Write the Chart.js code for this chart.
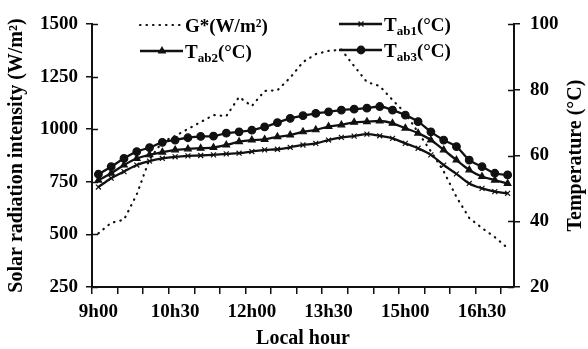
<!DOCTYPE html>
<html>
<head>
<meta charset="utf-8">
<script src="https://cdn.jsdelivr.net/npm/chart.js@4.4.1/dist/chart.umd.min.js"></script>
<style>
html, body { margin: 0; padding: 0; background: #fff; }
#wrap { width: 588px; height: 349px; }
</style>
</head>
<body>
<div id="wrap"><canvas id="mycanvas"></canvas></div>
<script>
// time of day, every 15 min
var hours = ['9h00','9h15','9h30','9h45','10h00','10h15','10h30','10h45','11h00','11h15','11h30',
	'11h45','12h00','12h15','12h30','12h45','13h00','13h15','13h30','13h45','14h00','14h15',
	'14h30','14h45','15h00','15h15','15h30','15h45','16h00','16h15','16h30','16h45','17h00'];
var shownHours = ['9h00','10h30','12h00','13h30','15h00','16h30'];

// solar radiation G* (W/m2)
var gStar = [505, 555, 570, 690, 858, 939, 968, 1001, 1034, 1067, 1062,
	1153, 1110, 1182, 1185, 1245, 1319, 1357, 1372, 1378, 1300, 1224,
	1205, 1139, 1077, 985, 895, 800, 678, 578, 530, 487, 435];

// absorber temperatures (C)
var tab1 = [50.4, 53.1, 55.1, 57.1, 58.3, 59.1, 59.6, 59.9, 60.0, 60.2, 60.5,
	60.7, 61.2, 61.7, 61.9, 62.5, 63.2, 63.7, 64.7, 65.5, 65.9, 66.5,
	66.0, 65.2, 63.7, 62.2, 60.2, 57.1, 54.4, 51.5, 50.0, 49.0, 48.5];
var tab2 = [52.5, 54.6, 57.1, 59.1, 60.2, 61.0, 61.7, 62.0, 62.2, 62.4, 63.2,
	64.2, 64.7, 64.9, 65.7, 66.2, 67.2, 67.8, 68.8, 69.3, 70.1, 70.3,
	70.5, 69.8, 68.3, 66.8, 64.7, 61.7, 58.6, 55.6, 53.6, 52.5, 51.5];
var tab3 = [54.3, 56.6, 59.1, 61.2, 62.4, 64.0, 64.7, 65.4, 65.8, 65.9, 66.8,
	67.2, 67.7, 68.7, 70.0, 71.3, 72.1, 72.8, 73.3, 73.8, 74.1, 74.4,
	74.9, 73.8, 72.3, 70.3, 67.2, 64.7, 62.7, 58.6, 56.6, 54.6, 54.1];

var radTicks = {min: 250, max: 1500, step: 250};
var tempTicks = {min: 20, max: 100, step: 20};
var tempTitle = 'Temperature (°C)';

var serif = "'Liberation Serif', 'Times New Roman', serif";
Chart.defaults.font.family = serif;
Chart.defaults.font.weight = 'bold';
Chart.defaults.color = '#000';

var ink = '#111';

// inner half of the axis ticks, right title (reads upward) and the two-column legend
var extras = {
	id: 'extras',
	afterDraw: function(chart) {
		var c = chart.ctx;
		var a = chart.chartArea;
		c.save();
		c.strokeStyle = ink;
		c.lineWidth = 1.5;
		var yl = chart.scales.y, yr = chart.scales.y1;
		yl.ticks.forEach(function(t) {
			var p = Math.round(yl.getPixelForValue(t.value)) + 0.5;
			c.beginPath(); c.moveTo(a.left, p); c.lineTo(a.left + 6, p); c.stroke();
		});
		yr.ticks.forEach(function(t) {
			var p = Math.round(yr.getPixelForValue(t.value)) + 0.5;
			c.beginPath(); c.moveTo(a.right, p); c.lineTo(a.right - 6, p); c.stroke();
		});

		c.save();
		c.translate(yr.right - 12, (yr.top + yr.bottom) / 2);
		c.rotate(-Math.PI / 2);
		c.font = 'bold 20px ' + serif;
		c.fillStyle = '#000';
		c.textAlign = 'center';
		c.textBaseline = 'middle';
		c.fillText(tempTitle, 0, 0);
		c.restore();

		var items = [
			{ds: 0, x: 140, y: 25, main: 'G*(W/m²)'},
			{ds: 1, x: 339, y: 24, main: 'T', sub: 'ab1', tail: '(°C)'},
			{ds: 2, x: 140, y: 51, main: 'T', sub: 'ab2', tail: '(°C)'},
			{ds: 3, x: 339, y: 50, main: 'T', sub: 'ab3', tail: '(°C)'}
		];
		items.forEach(function(it) {
			var d = chart.data.datasets[it.ds];
			c.save();
			c.strokeStyle = d.borderColor;
			c.lineWidth = d.borderWidth;
			c.setLineDash(d.borderDash || []);
			c.lineCap = d.borderCapStyle || 'butt';
			c.beginPath(); c.moveTo(it.x, it.y); c.lineTo(it.x + 43, it.y); c.stroke();
			c.restore();
			if (d.pointRadius > 0) {
				c.save();
				c.fillStyle = d.pointBackgroundColor;
				c.strokeStyle = d.pointBorderColor;
				c.lineWidth = d.pointBorderWidth;
				Chart.helpers.drawPoint(c, {pointStyle: d.pointStyle, radius: d.pointRadius, rotation: 0, borderWidth: d.pointBorderWidth}, it.x + 22, it.y);
				c.restore();
			}
			var tx = it.x + 45, base = it.y + 7;
			c.fillStyle = '#000';
			c.textBaseline = 'alphabetic';
			c.textAlign = 'left';
			c.font = 'bold 19px ' + serif;
			c.fillText(it.main, tx, base);
			tx += c.measureText(it.main).width;
			if (it.sub) {
				c.font = 'bold 13px ' + serif;
				c.fillText(it.sub, tx, base + 4);
				tx += c.measureText(it.sub).width;
				c.font = 'bold 19px ' + serif;
				c.fillText(it.tail, tx, base);
			}
		});
		c.restore();
	}
};

function tempSet(data, style, radius) {
	return {
		data: data,
		yAxisID: 'y1',
		borderColor: ink,
		borderWidth: 2.3,
		pointStyle: style,
		pointRadius: radius,
		pointBackgroundColor: ink,
		pointBorderColor: ink,
		pointBorderWidth: 1.2,
		cubicInterpolationMode: 'monotone',
		fill: false
	};
}

var chartdata = {
	labels: hours,
	datasets: [
		{
			label: 'G*(W/m²)',
			data: gStar,
			yAxisID: 'y',
			borderColor: ink,
			borderWidth: 2.2,
			borderDash: [0.5, 6],
			borderCapStyle: 'round',
			pointRadius: 0,
			tension: 0,
			fill: false
		},
		Object.assign({label: 'Tab1(°C)'}, tempSet(tab1, 'crossRot', 3.5)),
		Object.assign({label: 'Tab2(°C)'}, tempSet(tab2, 'triangle', 3.8)),
		Object.assign({label: 'Tab3(°C)'}, tempSet(tab3, 'circle', 3.8))
	]
};

var ctx = document.getElementById('mycanvas');

var LineGraph = new Chart(ctx, {
	type: 'line',
	data: chartdata,
	plugins: [extras],
	options: {
		responsive: true,
		maintainAspectRatio: false,
		animation: false,
		devicePixelRatio: 1,
		layout: { padding: { top: 24, left: 0, right: 0, bottom: 0 } },
		plugins: {
			legend: { display: false },
			tooltip: { enabled: false }
		},
		scales: {
			x: {
				offset: true,
				afterFit: function(s) { s.height = 62; },
				border: { display: true, color: ink, width: 2 },
				grid: {
					offset: true,
					drawOnChartArea: false,
					drawTicks: true,
					tickLength: 7,
					lineWidth: 1.5,
					color: function(c) { return c.index % 2 === 0 ? ink : 'rgba(0,0,0,0)'; }
				},
				ticks: {
					autoSkip: false,
					maxRotation: 0,
					minRotation: 0,
					padding: 7,
					font: { size: 19, weight: 'bold' },
					callback: function(v, i) {
						var h = hours[i];
						return shownHours.indexOf(h) >= 0 ? h : '';
					}
				},
				title: {
					display: true,
					text: 'Local hour',
					font: { size: 20, weight: 'bold', lineHeight: 1 },
					padding: { top: 0, bottom: 0 }
				}
			},
			y: {
				position: 'left',
				min: radTicks.min,
				max: radTicks.max,
				afterFit: function(s) { s.width = 92; },
				border: { display: true, color: ink, width: 2 },
				grid: { drawOnChartArea: false, tickLength: 6, color: ink, lineWidth: 1.5 },
				ticks: {
					stepSize: radTicks.step,
					padding: 8,
					font: { size: 19, weight: 'bold' },
					callback: function(v) { return String(v); }
				},
				title: {
					display: true,
					text: 'Solar radiation intensity (W/m²)',
					font: { size: 20, weight: 'bold', lineHeight: 1 },
					padding: { top: 7, bottom: 0 }
				}
			},
			y1: {
				position: 'right',
				min: tempTicks.min,
				max: tempTicks.max,
				afterFit: function(s) { s.width = 74; },
				border: { display: true, color: ink, width: 2 },
				grid: { drawOnChartArea: false, tickLength: 6, color: ink, lineWidth: 1.5 },
				ticks: {
					stepSize: tempTicks.step,
					padding: 10,
					font: { size: 19, weight: 'bold' },
					callback: function(v) { return String(v); }
				}
			}
		}
	}
});
</script>
</body>
</html>
